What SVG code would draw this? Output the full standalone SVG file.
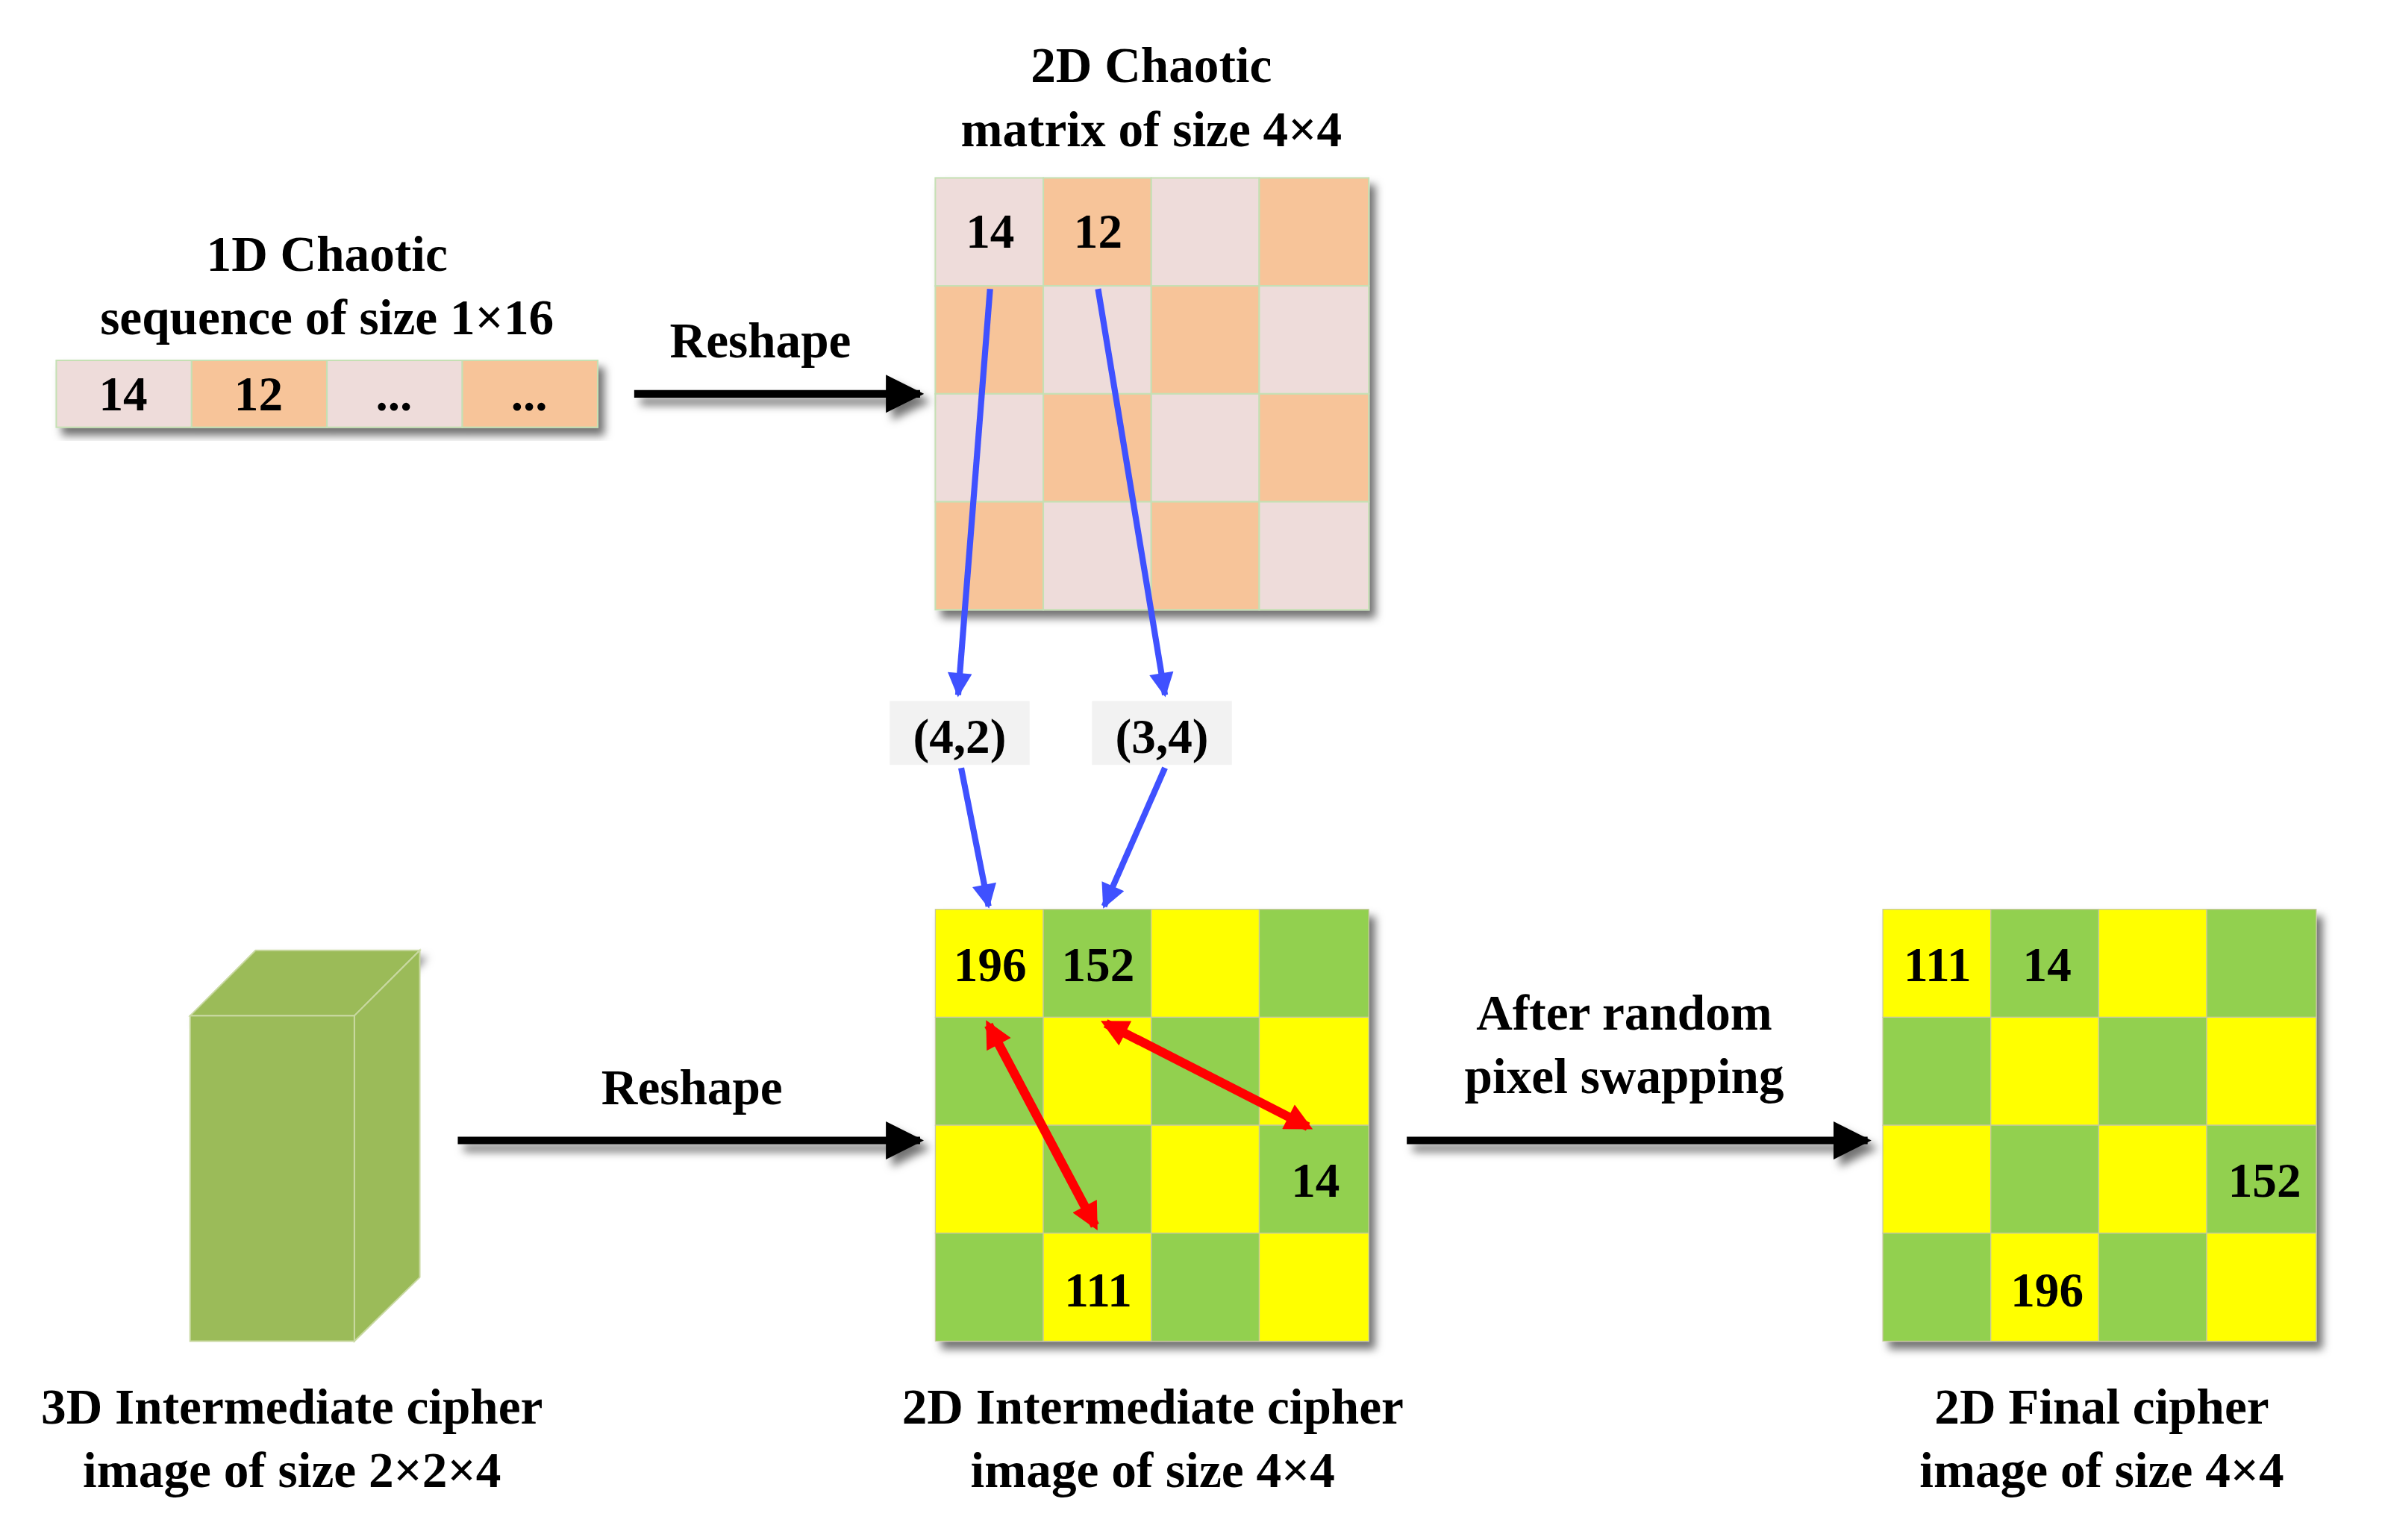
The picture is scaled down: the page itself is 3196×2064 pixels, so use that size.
<svg xmlns="http://www.w3.org/2000/svg" width="3196" height="2064" viewBox="0 0 3196 2064">
<style>
text{font-family:"Liberation Serif",serif;font-weight:bold;fill:#000;text-anchor:middle}
.t{font-size:33px}
.n{font-size:32px}
.p{fill:#EEDCDA;stroke:#C5E0B4;stroke-width:1}
.o{fill:#F7C499;stroke:#C5E0B4;stroke-width:1}
.y{fill:#FFFF00;stroke:#C8C8A0;stroke-width:0.6}
.g{fill:#92D050;stroke:#C8C8A0;stroke-width:0.6}
.k{stroke:#000;stroke-width:5;fill:none}
.b{stroke:#3F51FF;stroke-width:4;fill:none}
.r{stroke:#FF0000;stroke-width:6;fill:none}
</style>
<defs>
<filter id="sh" x="-10%" y="-10%" width="130%" height="130%"><feDropShadow dx="4" dy="5" stdDeviation="3" flood-color="#000" flood-opacity="0.55"/></filter>
<marker id="ak" viewBox="0 0 10 10" refX="9" refY="5" markerWidth="5" markerHeight="6" orient="auto" markerUnits="strokeWidth"><path d="M0,0L10,5L0,10z" fill="#000"/></marker>
<marker id="ab" viewBox="0 0 10 10" refX="9" refY="5" markerWidth="5" markerHeight="4" orient="auto" markerUnits="strokeWidth"><path d="M0,0L10,5L0,10z" fill="#3F51FF"/></marker>
<marker id="ar" viewBox="0 0 10 10" refX="8" refY="5" markerWidth="3.5" markerHeight="3" orient="auto-start-reverse" markerUnits="strokeWidth"><path d="M0,0L10,5L0,10z" fill="#FF0000"/></marker>
</defs>
<rect width="3196" height="2064" fill="#fff"/>
<g transform="scale(2.038)">
<g id="seq1d">
<text class="t" x="215" y="178">1D Chaotic</text>
<text class="t" x="215" y="220">sequence of size 1×16</text>
<g filter="url(#sh)">
<rect class="p" x="37" y="237" width="89" height="44"/><rect class="o" x="126" y="237" width="89" height="44"/>
<rect class="p" x="215" y="237" width="89" height="44"/><rect class="o" x="304" y="237" width="89" height="44"/>
</g>
<text class="n" x="81" y="270">14</text><text class="n" x="170" y="270">12</text>
<text class="n" x="259" y="270">...</text><text class="n" x="348" y="270">...</text>
</g>
<g id="mat2d">
<text class="t" x="757" y="54">2D Chaotic</text>
<text class="t" x="757" y="96">matrix of size 4×4</text>
<g filter="url(#sh)">
<rect class="p" x="615" y="117" width="71" height="71"/><rect class="o" x="686" y="117" width="71" height="71"/><rect class="p" x="757" y="117" width="71" height="71"/><rect class="o" x="828" y="117" width="72" height="71"/>
<rect class="o" x="615" y="188" width="71" height="71"/><rect class="p" x="686" y="188" width="71" height="71"/><rect class="o" x="757" y="188" width="71" height="71"/><rect class="p" x="828" y="188" width="72" height="71"/>
<rect class="p" x="615" y="259" width="71" height="71"/><rect class="o" x="686" y="259" width="71" height="71"/><rect class="p" x="757" y="259" width="71" height="71"/><rect class="o" x="828" y="259" width="72" height="71"/>
<rect class="o" x="615" y="330" width="71" height="71"/><rect class="p" x="686" y="330" width="71" height="71"/><rect class="o" x="757" y="330" width="71" height="71"/><rect class="p" x="828" y="330" width="72" height="71"/>
</g>
<text class="n" x="651" y="163">14</text><text class="n" x="722" y="163">12</text>
</g>
<g id="pos42"><rect x="585" y="461" width="92" height="42" fill="#F2F2F2"/><text class="n" x="631" y="495">(4,2)</text></g>
<g id="pos34"><rect x="718" y="461" width="92" height="42" fill="#F2F2F2"/><text class="n" x="764" y="495">(3,4)</text></g>
<g id="box3d">
<path d="M125,668 L168,625 L276,625 L233,668 Z" fill="#9BBB59" stroke="#C8D8A0" stroke-width="1" filter="url(#sh)"/>
<path d="M233,668 L276,625 L276,840 L233,882 Z" fill="#9BBB59" stroke="#C8D8A0" stroke-width="1"/>
<rect x="125" y="668" width="108" height="214" fill="#9BBB59" stroke="#C8D8A0" stroke-width="1"/>
<text class="t" x="192" y="936">3D Intermediate cipher</text>
<text class="t" x="192" y="978">image of size 2×2×4</text>
</g>
<g id="inter2d">
<g filter="url(#sh)">
<rect class="y" x="615" y="598" width="71" height="71"/><rect class="g" x="686" y="598" width="71" height="71"/><rect class="y" x="757" y="598" width="71" height="71"/><rect class="g" x="828" y="598" width="72" height="71"/>
<rect class="g" x="615" y="669" width="71" height="71"/><rect class="y" x="686" y="669" width="71" height="71"/><rect class="g" x="757" y="669" width="71" height="71"/><rect class="y" x="828" y="669" width="72" height="71"/>
<rect class="y" x="615" y="740" width="71" height="71"/><rect class="g" x="686" y="740" width="71" height="71"/><rect class="y" x="757" y="740" width="71" height="71"/><rect class="g" x="828" y="740" width="72" height="71"/>
<rect class="g" x="615" y="811" width="71" height="71"/><rect class="y" x="686" y="811" width="71" height="71"/><rect class="g" x="757" y="811" width="71" height="71"/><rect class="y" x="828" y="811" width="72" height="71"/>
</g>
<text class="n" x="651" y="645">196</text><text class="n" x="722" y="645">152</text>
<text class="n" x="865" y="787">14</text><text class="n" x="722" y="859">111</text>
<text class="t" x="758" y="936">2D Intermediate cipher</text>
<text class="t" x="758" y="978">image of size 4×4</text>
</g>
<g id="final2d">
<g filter="url(#sh)">
<rect class="y" x="1238" y="598" width="71" height="71"/><rect class="g" x="1309" y="598" width="71" height="71"/><rect class="y" x="1380" y="598" width="71" height="71"/><rect class="g" x="1451" y="598" width="72" height="71"/>
<rect class="g" x="1238" y="669" width="71" height="71"/><rect class="y" x="1309" y="669" width="71" height="71"/><rect class="g" x="1380" y="669" width="71" height="71"/><rect class="y" x="1451" y="669" width="72" height="71"/>
<rect class="y" x="1238" y="740" width="71" height="71"/><rect class="g" x="1309" y="740" width="71" height="71"/><rect class="y" x="1380" y="740" width="71" height="71"/><rect class="g" x="1451" y="740" width="72" height="71"/>
<rect class="g" x="1238" y="811" width="71" height="71"/><rect class="y" x="1309" y="811" width="71" height="71"/><rect class="g" x="1380" y="811" width="71" height="71"/><rect class="y" x="1451" y="811" width="72" height="71"/>
</g>
<text class="n" x="1274" y="645">111</text><text class="n" x="1346" y="645">14</text>
<text class="n" x="1489" y="787">152</text><text class="n" x="1346" y="859">196</text>
<text class="t" x="1382" y="936">2D Final cipher</text>
<text class="t" x="1382" y="978">image of size 4×4</text>
</g>
<g id="connectors">
<g filter="url(#sh)">
<line class="k" x1="417" y1="259" x2="605" y2="259" marker-end="url(#ak)"/>
<line class="k" x1="301" y1="750" x2="605" y2="750" marker-end="url(#ak)"/>
<line class="k" x1="925" y1="750" x2="1228" y2="750" marker-end="url(#ak)"/>
</g>
<text class="t" x="500" y="235">Reshape</text>
<text class="t" x="455" y="726">Reshape</text>
<text class="t" x="1068" y="677">After random</text>
<text class="t" x="1068" y="719">pixel swapping</text>
<line class="b" x1="651" y1="190" x2="630" y2="457" marker-end="url(#ab)"/>
<line class="b" x1="722" y1="190" x2="766" y2="457" marker-end="url(#ab)"/>
<line class="b" x1="632" y1="505" x2="650" y2="596" marker-end="url(#ab)"/>
<line class="b" x1="766" y1="505" x2="726" y2="596" marker-end="url(#ab)"/>
<line class="r" x1="650" y1="674" x2="720" y2="806" marker-start="url(#ar)" marker-end="url(#ar)"/>
<line class="r" x1="727" y1="673" x2="860" y2="741" marker-start="url(#ar)" marker-end="url(#ar)"/>
</g>
</g>
</svg>
